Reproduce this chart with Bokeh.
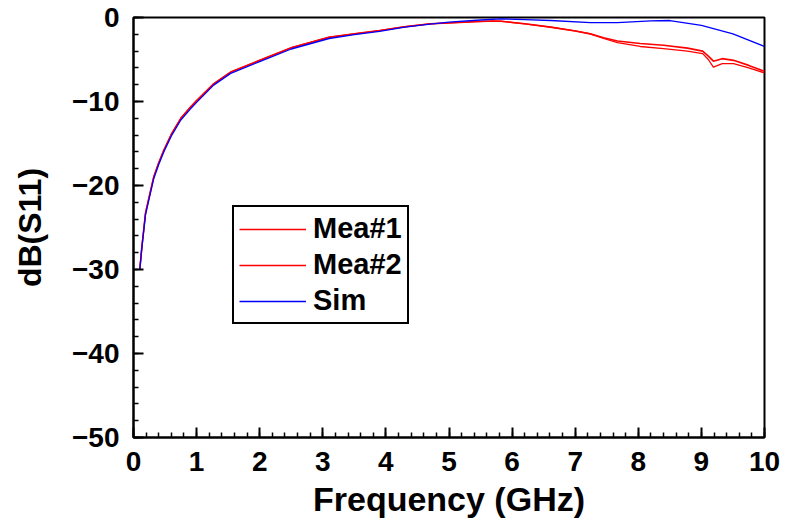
from bokeh.plotting import figure
from bokeh.models import SingleIntervalTicker, Range1d, Legend, LegendItem
from bokeh.embed import file_html
from bokeh.resources import INLINE

# ---- data ----
freq_mea = [0.1, 0.13, 0.19, 0.25, 0.32, 0.4, 0.48, 0.6, 0.75, 0.9, 1.0, 1.27, 1.54, 2.0,
            2.5, 3.1, 3.5, 3.9, 4.3, 4.7, 5.0, 5.4, 5.7, 5.82, 6.2, 6.61, 7.0, 7.24, 7.45,
            7.67, 8.03, 8.4, 8.78, 9.02, 9.11, 9.19, 9.33, 9.51, 9.75, 10.0]
mea1 = [-30.0, -27.5, -23.3, -21.3, -19.0, -17.3, -15.8, -13.9, -12.0, -10.7, -9.9, -7.9, -6.5, -5.1,
        -3.6, -2.35, -1.95, -1.55, -1.1, -0.75, -0.65, -0.5, -0.42, -0.44, -0.75, -1.15, -1.6, -1.95, -2.4,
        -2.8, -3.1, -3.3, -3.65, -4.0, -4.6, -5.2, -4.9, -5.1, -5.7, -6.4]
mea2 = [-30.0, -27.5, -23.3, -21.3, -19.0, -17.3, -15.8, -13.9, -12.0, -10.7, -9.9, -7.9, -6.5, -5.1,
        -3.6, -2.35, -1.95, -1.55, -1.1, -0.75, -0.65, -0.5, -0.42, -0.44, -0.75, -1.15, -1.6, -1.95, -2.5,
        -3.0, -3.45, -3.7, -4.0, -4.3, -5.0, -5.9, -5.5, -5.5, -6.0, -6.6]

freq_sim = [0.1, 0.13, 0.19, 0.25, 0.32, 0.4, 0.48, 0.6, 0.75, 0.9, 1.0, 1.27, 1.54, 2.0,
            2.5, 3.1, 3.5, 3.9, 4.3, 4.7, 5.0, 5.5, 5.82, 6.2, 6.61, 7.24, 7.67, 8.2, 8.5,
            9.0, 9.5, 10.0]
sim = [-30.0, -27.6, -23.5, -21.5, -19.2, -17.5, -16.0, -14.1, -12.2, -10.9, -10.1, -8.05, -6.65, -5.25,
       -3.75, -2.5, -2.05, -1.65, -1.15, -0.8, -0.55, -0.3, -0.16, -0.25, -0.36, -0.6, -0.6, -0.4, -0.36,
       -0.95, -1.95, -3.45]

x_ticks = [0, 1, 2, 3, 4, 5, 6, 7, 8, 9, 10]
y_ticks = [0, -10, -20, -30, -40, -50]

FONT = "Liberation Sans"

p = figure(width=790, height=524, output_backend="svg", toolbar_location=None,
           x_range=Range1d(0, 10), y_range=Range1d(-50, 0),
           min_border_left=133, min_border_right=26, min_border_top=17, min_border_bottom=87)
p.xgrid.visible = False
p.ygrid.visible = False
p.outline_line_color = "black"
p.outline_line_width = 2
p.outline_line_alpha = 1

r1 = p.line(freq_mea, mea1, line_color="#ff0000", line_width=1.6)
r2 = p.line(freq_mea, mea2, line_color="#ff0000", line_width=1.3)
r3 = p.line(freq_sim, sim, line_color="#0000ff", line_width=1.3)

for ax, ticks in ((p.xaxis[0], x_ticks), (p.yaxis[0], y_ticks)):
    ax.ticker = SingleIntervalTicker(interval=abs(ticks[1] - ticks[0]), num_minor_ticks=5)
    ax.axis_line_width = 2
    ax.axis_line_color = "black"
    ax.major_tick_in = 10
    ax.major_tick_out = 0
    ax.minor_tick_in = 5
    ax.minor_tick_out = 0
    ax.major_tick_line_width = 2
    ax.minor_tick_line_width = 1.5
    ax.major_label_text_font = FONT
    ax.major_label_text_font_style = "bold"
    ax.major_label_text_font_size = "28px"
    ax.major_label_text_color = "black"
    ax.axis_label_text_font = FONT
    ax.axis_label_text_font_style = "bold"
    ax.axis_label_text_color = "black"

p.xaxis.major_label_standoff = 14
p.yaxis.major_label_standoff = 14
p.xaxis.axis_label = "Frequency (GHz)"
p.xaxis.axis_label_text_font_size = "34px"
p.xaxis.axis_label_standoff = 6
p.yaxis.axis_label = "dB(S11)"
p.yaxis.axis_label_text_font_size = "32px"
p.yaxis.axis_label_standoff = 21

legend = Legend(items=[LegendItem(label="Mea#1", renderers=[r1]),
                       LegendItem(label="Mea#2", renderers=[r2]),
                       LegendItem(label="Sim", renderers=[r3])],
                location=(99, 113))
legend.label_text_font = FONT
legend.label_text_font_style = "bold"
legend.label_text_font_size = "29px"
legend.label_text_color = "black"
legend.border_line_color = "black"
legend.border_line_alpha = 1
legend.border_line_width = 2
legend.background_fill_alpha = 1
legend.glyph_width = 67
legend.label_standoff = 7
legend.padding = 5
legend.spacing = 3
legend.margin = 0
legend.label_height = 30
legend.glyph_height = 30
p.add_layout(legend, "center")

open("out.html", "w").write(file_html(p, INLINE))
